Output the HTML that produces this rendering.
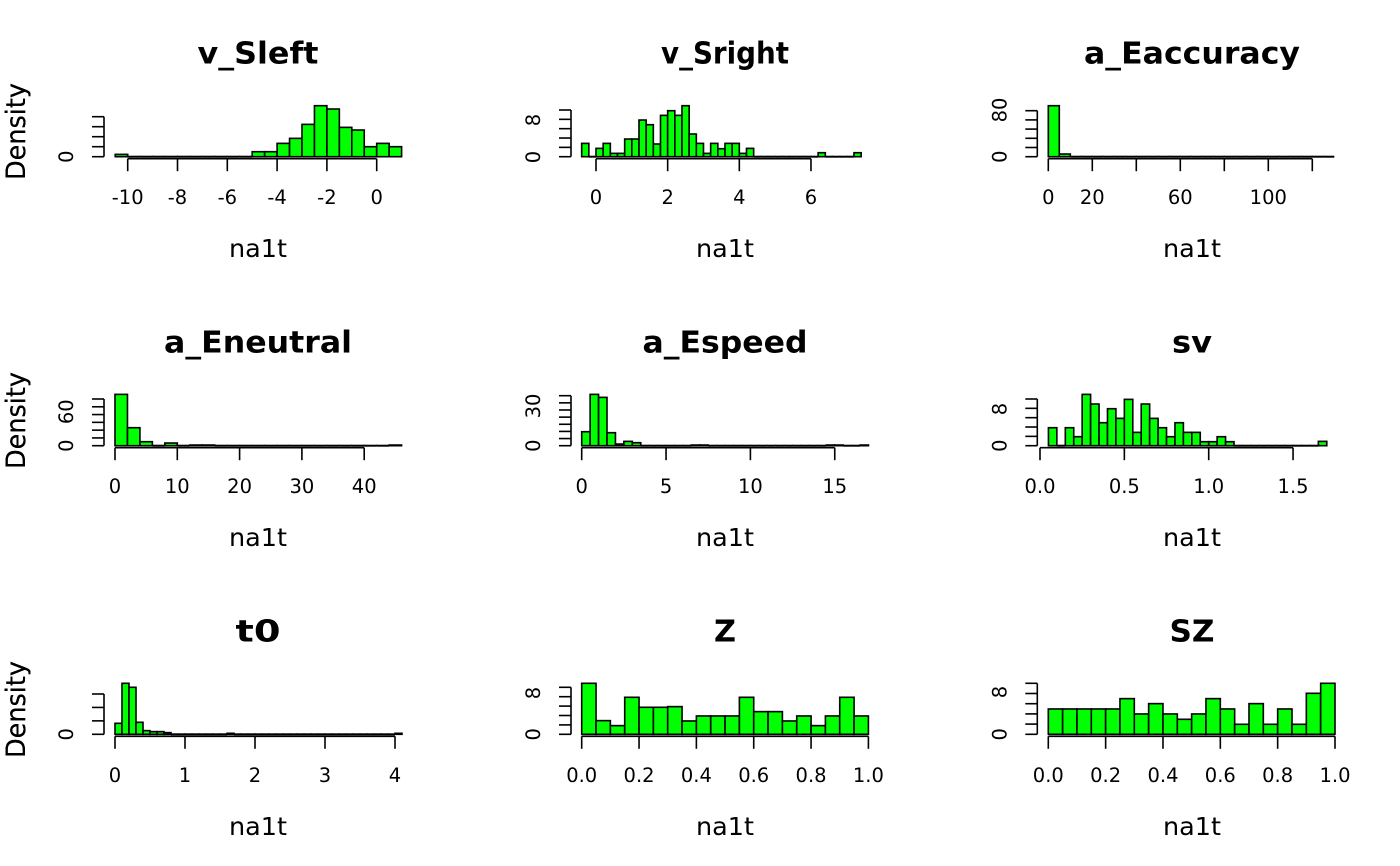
<!DOCTYPE html>
<html><head><meta charset="utf-8"><style>html,body{margin:0;padding:0;background:#fff;}svg{display:block}</style></head>
<body>
<svg id="s" xmlns="http://www.w3.org/2000/svg" width="1400" height="866" viewBox="0 0 1400 866"></svg>
<script>
const S=document.getElementById('s');let h='';
function T(x,y,t,o){o=o||{};h+=`<text x="${x}" y="${y}" font-family="DejaVu Sans, Liberation Sans, sans-serif" font-size="${o.fs||20}" ${o.b?'font-weight="bold"':''} text-anchor="middle" ${o.tl?`textLength="${o.tl}" lengthAdjust="spacingAndGlyphs"`:''} ${o.rot?`transform="rotate(-90 ${x} ${y})"`:''}>${t}</text>`;}
const P=[
{t:'v_Sleft',tl:121,col:0,row:0,x0:376.7,sc:24.9,xt:[-10,-8,-6,-4,-2,0],xl:['-10','-8','-6','-4','-2','0'],bw:0.5,start:-10.5,
 tops:[193,200,200,200,200,200,200,200,200,200,200,185,185,160,145,103,47,57,112,120,170,160,170],zoomBase:200,
 yTop:116.7,yn:4,yl:[['0',156.7]]},
{t:'v_Sright',tl:128,col:1,row:0,x0:596,sc:35.83,xt:[0,2,4,6],xl:['0','2','4','6'],bw:0.2,start:-0.4,
 tops:[160,200,175,160,190,190,147,147,90,104,162,76,62,76,47,132,160,190,160,176,160,160,190,175,200,200,200,200,200,200,200,200,200,188,200,200,200,200,188],zoomBase:200,
 yTop:110,yn:5,yl:[['0',157],['8',120]]},
{t:'a_Eaccuracy',tl:216,col:2,row:0,x0:1048.3,sc:2.2,xt:[0,20,40,60,80,100,120],xl:['0','20','','60','','100',''],bw:5,start:0,
 tops:[47,192,200,199,199,199,200,199,200,200,200,200,200,200,200,200,199,200,200,200,200,200,200,200,200,199],zoomBase:200,
 yTop:110.7,yn:5,yl:[['0',156.7],['80',110]]},
{t:'a_Eneutral',tl:188,col:0,row:1,x0:115,sc:6.23,xt:[0,10,20,30,40],xl:['0','10','20','30','40'],bw:2,start:0,
 tops:[43,143,185,197,189,197,195,195,197,197,197,197,197,197,197,197,197,197,197,197,197,197,195],zoomBase:197,
 yTop:399,yn:6,yl:[['0',445.7],['60',411.7]]},
{t:'a_Espeed',tl:165,col:1,row:1,x0:581.7,sc:16.87,xt:[0,5,10,15],xl:['0','5','10','15'],bw:0.5,start:0,
 tops:[155,43,52,158,192,184,188,197,197,197,197,197,197,195,195,197,197,197,197,197,197,197,197,197,197,197,197,197,197,195,195,197,197,195],zoomBase:197,
 yTop:395.7,yn:7,yl:[['0',445.7],['30',406]]},
{t:'sv',tl:40,col:2,row:1,x0:1040,sc:168.7,xt:[0,0.5,1,1.5],xl:['0.0','0.5','1.0','1.5'],bw:0.05,start:0.05,
 tops:[143,197,143,170,43,72,128,86,115,58,157,72,115,143,170,128,157,157,185,185,170,185,197,197,197,197,197,197,197,197,197,197,184],zoomBase:197,
 yTop:399,yn:5,yl:[['0',445.7],['8',409]]},
{t:'t0',tl:45,col:0,row:2,x0:115,sc:70,xt:[0,1,2,3,4],xl:['0','1','2','3','4'],bw:0.1,start:0,
 tops:[160,40,52,157,182,185,185,188,193,193,193,193,193,193,193,193,190,193,193,193,193,193,193,193,193,193,193,193,193,193,193,193,193,193,193,193,193,193,193,193,190],zoomBase:193,
 yTop:694,yn:3,yl:[['0',734.3]]},
{t:'Z',tl:22,col:1,row:2,x0:581.7,sc:286.7,xt:[0,0.2,0.4,0.6,0.8,1],xl:['0.0','0.2','0.4','0.6','0.8','1.0'],bw:0.05,start:0,
 tops:[40,152,167,82,112,112,110,153,138,138,138,82,125,125,153,138,167,138,82,138],zoomBase:193,
 yTop:687.3,yn:5,yl:[['0',734.3],['8',693]]},
{t:'SZ',tl:45,col:2,row:2,x0:1048.3,sc:286.7,xt:[0,0.2,0.4,0.6,0.8,1],xl:['0.0','0.2','0.4','0.6','0.8','1.0'],bw:0.05,start:0,
 tops:[117,117,117,117,117,86,132,101,132,148,132,86,117,163,101,163,117,163,70,40],zoomBase:193,
 yTop:683.3,yn:5,yl:[['0',734.3],['8',692]]}
];
const yAx=[104,571,1037.3], cen=[258,725,1192];
P.forEach(p=>{
 const dy=p.row*289, base=[156.7,445.7,734.3][p.row];
 const ax=yAx[p.col], c=cen[p.col];
 T(c,63.5+dy,p.t,{fs:30,b:1,tl:p.tl});
 T(c,257+dy,'na1t',{fs:25,tl:58});
 T(25,131.5+dy,'Density',{fs:27,tl:97,rot:1});
 p.tops.forEach((tp,i)=>{
  const a=p.x0+p.sc*(p.start+i*p.bw), b=p.x0+p.sc*(p.start+(i+1)*p.bw);
  const hh=(p.zoomBase-tp)/3;
  if(hh<0.5){
   h+=`<line x1="${a.toFixed(2)}" y1="${base}" x2="${b.toFixed(2)}" y2="${base}" stroke="#000" stroke-width="2"/>`;
   h+=`<line x1="${a.toFixed(2)}" y1="${base-1}" x2="${a.toFixed(2)}" y2="${base}" stroke="#000" stroke-width="1.2"/>`;
  } else
  h+=`<rect x="${a.toFixed(2)}" y="${(base-hh).toFixed(2)}" width="${(b-a).toFixed(2)}" height="${hh.toFixed(2)}" fill="#00ff00" stroke="#000" stroke-width="1.6"/>`;
 });
 const xa=base+2, x1=p.x0+p.sc*p.xt[0], x2=p.x0+p.sc*p.xt[p.xt.length-1];
 h+=`<line x1="${x1}" y1="${xa}" x2="${x2}" y2="${xa}" stroke="#000" stroke-width="1.6"/>`;
 p.xt.forEach((v,i)=>{const x=p.x0+p.sc*v;h+=`<line x1="${x}" y1="${xa}" x2="${x}" y2="${xa+12.5}" stroke="#000" stroke-width="1.6"/>`;if(p.xl[i])T(x,base+47.5,p.xl[i],{fs:19.5});});
 h+=`<line x1="${ax}" y1="${p.yTop}" x2="${ax}" y2="${base}" stroke="#000" stroke-width="1.6"/>`;
 for(let k=0;k<=p.yn;k++){const y=base-(base-p.yTop)*k/p.yn;h+=`<line x1="${ax-12}" y1="${y}" x2="${ax}" y2="${y}" stroke="#000" stroke-width="1.6"/>`;}
 p.yl.forEach(([t,y])=>T(ax-31,y,t,{fs:19.5,rot:1}));
});
S.innerHTML=h;
</script>
</body></html>
